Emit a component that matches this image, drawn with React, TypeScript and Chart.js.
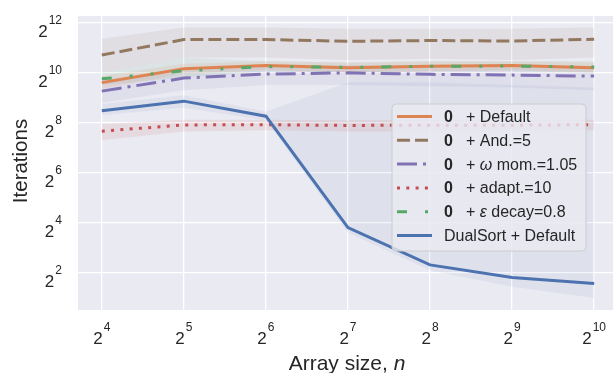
import React, { useEffect, useRef } from "react";
import { Chart, registerables } from "chart.js";

Chart.register(...registerables);

// ---------- data (values are log2 of iterations; x values are log2 of array size) ----------
const sizeExponents = [4, 5, 6, 7, 8, 9, 10];
const xTickExponents = [4, 5, 6, 7, 8, 9, 10];
const yTickExponents = [2, 4, 6, 8, 10, 12];

const defaultMean = [9.6, 10.15, 10.28, 10.19, 10.25, 10.28, 10.19];
const defaultLow = [9.35, 9.95, 10.1, 10.0, 10.05, 10.1, 10.0];
const defaultHigh = [9.85, 10.35, 10.45, 10.4, 10.45, 10.45, 10.4];

const andMean = [10.7, 11.32, 11.32, 11.25, 11.28, 11.26, 11.33];
const andLow = [10.0, 10.6, 10.6, 10.5, 10.55, 10.5, 10.6];
const andHigh = [11.35, 11.8, 11.8, 11.75, 11.75, 11.75, 11.8];

const momMean = [9.26, 9.78, 9.94, 9.99, 9.93, 9.9, 9.86];
const momLow = [8.8, 9.3, 9.5, 9.5, 9.45, 9.4, 9.3];
const momHigh = [9.7, 10.15, 10.25, 10.3, 10.25, 10.2, 10.2];

const adaptMean = [7.66, 7.91, 7.92, 7.89, 7.9, 7.9, 7.92];
const adaptLow = [7.3, 7.65, 7.7, 7.65, 7.65, 7.68, 7.7];
const adaptHigh = [7.95, 8.12, 8.12, 8.1, 8.12, 8.1, 8.12];

const decayMean = [9.75, 10.07, 10.24, 10.21, 10.25, 10.26, 10.22];
const decayLow = [9.5, 9.8, 10.05, 10.0, 10.05, 10.05, 10.0];
const decayHigh = [10.0, 10.6, 10.45, 10.4, 10.45, 10.45, 10.45];

const dualMean = [8.48, 8.86, 8.26, 3.81, 2.32, 1.82, 1.58];
const dualLow = [8.3, 8.6, 8.1, 3.6, 2.1, 1.45, 1.0];
const dualHigh = [8.75, 9.1, 8.45, 9.6, 9.6, 9.5, 9.4];

// ---------- styles ----------
const FONT = '"Liberation Sans", Arial, "DejaVu Sans", sans-serif';
const TEXT = "#262626";
const series = [
  { mean: defaultMean, low: defaultLow, high: defaultHigh, color: "221,132,82", dash: [] as number[], band: 0.12 },
  { mean: andMean, low: andLow, high: andHigh, color: "147,120,96", dash: [13, 5], band: 0.1 },
  { mean: momMean, low: momLow, high: momHigh, color: "129,114,179", dash: [20, 6, 3, 6], band: 0.1 },
  { mean: adaptMean, low: adaptLow, high: adaptHigh, color: "196,78,82", dash: [3, 6.3], band: 0.1 },
  { mean: decayMean, low: decayLow, high: decayHigh, color: "85,168,104", dash: [10, 18, 3, 18, 3, 18], band: 0.1 },
  { mean: dualMean, low: dualLow, high: dualHigh, color: "76,114,176", dash: [] as number[], band: 0.07 },
];

type Part = { t: string; b?: boolean; i?: boolean };
const legendParts: Part[][] = [
  [{ t: "0", b: true }, { t: "+ Default" }],
  [{ t: "0", b: true }, { t: "+ And.=5" }],
  [{ t: "0", b: true }, { t: "+ " }, { t: "ω", i: true }, { t: " mom.=1.05" }],
  [{ t: "0", b: true }, { t: "+ adapt.=10" }],
  [{ t: "0", b: true }, { t: "+ " }, { t: "ε", i: true }, { t: " decay=0.8" }],
  [{ t: "DualSort + Default" }],
];

const toPts = (ys: number[]) => sizeExponents.map((x, i) => ({ x, y: ys[i] }));

function drawPow(ctx: CanvasRenderingContext2D, x: number, baseline: number, exp: string, align: "right" | "center") {
  ctx.font = `17px ${FONT}`;
  const wb = ctx.measureText("2").width;
  ctx.font = `12px ${FONT}`;
  const we = ctx.measureText(exp).width;
  const gap = 1;
  const total = wb + gap + we;
  const x0 = align === "right" ? x - total : x - total / 2;
  ctx.textAlign = "left";
  ctx.textBaseline = "alphabetic";
  ctx.fillStyle = TEXT;
  ctx.font = `17px ${FONT}`;
  ctx.fillText("2", x0, baseline);
  ctx.font = `12px ${FONT}`;
  ctx.fillText(exp, x0 + wb + gap, baseline - 13);
}

const decorPlugin = {
  id: "decor",
  beforeDraw(chart: any) {
    const { ctx, chartArea } = chart;
    ctx.save();
    ctx.fillStyle = "#EAEAF2";
    ctx.fillRect(chartArea.left, chartArea.top, chartArea.right - chartArea.left, chartArea.bottom - chartArea.top);
    ctx.restore();
  },
  afterDraw(chart: any) {
    const { ctx } = chart;
    const xs = chart.scales.x;
    const ys = chart.scales.y;
    ctx.save();
    for (const e of yTickExponents) {
      const py = ys.getPixelForValue(e);
      drawPow(ctx, 62, py + 14, String(e), "right");
    }
    for (const e of xTickExponents) {
      const px = xs.getPixelForValue(e);
      drawPow(ctx, px, 344, String(e), "center");
    }
    ctx.save();
    ctx.translate(27, 161);
    ctx.rotate(-Math.PI / 2);
    ctx.font = `20.5px ${FONT}`;
    ctx.fillStyle = TEXT;
    ctx.textAlign = "center";
    ctx.textBaseline = "alphabetic";
    ctx.fillText("Iterations", 0, 0);
    ctx.restore();
    ctx.font = `21px ${FONT}`;
    const w1 = ctx.measureText("Array size, ").width;
    ctx.font = `italic 21px ${FONT}`;
    const w2 = ctx.measureText("n").width;
    const sx = 347 - (w1 + w2) / 2;
    ctx.fillStyle = TEXT;
    ctx.textAlign = "left";
    ctx.font = `21px ${FONT}`;
    ctx.fillText("Array size, ", sx, 370);
    ctx.font = `italic 21px ${FONT}`;
    ctx.fillText("n", sx + w1, 370);

    const bx = 392, by = 104, bw = 194, bh = 147, r = 4;
    ctx.beginPath();
    ctx.moveTo(bx + r, by);
    ctx.arcTo(bx + bw, by, bx + bw, by + bh, r);
    ctx.arcTo(bx + bw, by + bh, bx, by + bh, r);
    ctx.arcTo(bx, by + bh, bx, by, r);
    ctx.arcTo(bx, by, bx + bw, by, r);
    ctx.closePath();
    ctx.fillStyle = "rgba(234,234,242,0.8)";
    ctx.fill();
    ctx.strokeStyle = "#cccccc";
    ctx.lineWidth = 1;
    ctx.stroke();

    legendParts.forEach((parts, i) => {
      const cy = 116.5 + i * 23.8;
      const s = series[i];
      ctx.save();
      ctx.strokeStyle = `rgb(${s.color})`;
      ctx.lineWidth = 3;
      ctx.lineCap = "butt";
      ctx.setLineDash(s.dash);
      ctx.beginPath();
      ctx.moveTo(397, cy);
      ctx.lineTo(432, cy);
      ctx.stroke();
      ctx.restore();
      let x = 444;
      ctx.fillStyle = TEXT;
      ctx.textBaseline = "middle";
      parts.forEach((p) => {
        ctx.font = `${p.b ? "bold " : ""}${p.i ? "italic " : ""}16px ${FONT}`;
        ctx.fillText(p.t, x, cy + 1);
        if (p.b) x += 22;
        else x += ctx.measureText(p.t).width;
      });
    });
    ctx.restore();
  },
};

export default function App() {
  const ref = useRef<HTMLCanvasElement | null>(null);
  useEffect(() => {
    document.body.style.margin = "0";
    const canvas = ref.current!;
    const datasets: any[] = [];
    series.forEach((s, i) => {
      datasets.push({
        data: toPts(s.mean),
        borderColor: `rgb(${s.color})`,
        borderWidth: 3,
        borderDash: s.dash,
        borderCapStyle: "butt",
        pointRadius: 0,
        fill: false,
        tension: 0,
        order: 10 - i,
      });
    });
    series.forEach((s) => {
      const lowIndex = datasets.length;
      datasets.push({
        data: toPts(s.low),
        borderColor: "transparent",
        borderWidth: 0,
        pointRadius: 0,
        fill: false,
        order: 100,
      });
      datasets.push({
        data: toPts(s.high),
        borderColor: "transparent",
        borderWidth: 0,
        pointRadius: 0,
        fill: { target: lowIndex },
        backgroundColor: `rgba(${s.color},${s.band})`,
        order: 100,
      });
    });
    const chart = new Chart(canvas, {
      type: "line",
      data: { datasets },
      options: {
        animation: false,
        responsive: false,
        layout: { padding: { left: 78, top: 16, right: 0, bottom: 63 } },
        plugins: { legend: { display: false }, tooltip: { enabled: false } },
        scales: {
          x: {
            type: "linear",
            min: 3.71,
            max: 10.23,
            afterBuildTicks: (axis: any) => {
              axis.ticks = xTickExponents.map((v) => ({ value: v }));
            },
            ticks: { display: false },
            grid: { color: "#ffffff", lineWidth: 1.3, drawTicks: false },
            border: { display: false },
          },
          y: {
            type: "linear",
            min: 0.52,
            max: 12.26,
            afterBuildTicks: (axis: any) => {
              axis.ticks = yTickExponents.map((v) => ({ value: v }));
            },
            ticks: { display: false },
            grid: { color: "#ffffff", lineWidth: 1.3, drawTicks: false },
            border: { display: false },
          },
        },
      },
      plugins: [decorPlugin],
    });
    return () => chart.destroy();
  }, []);
  return (
    <div style={{ position: "fixed", left: 0, top: 0, width: 613, height: 373, background: "#fff" }}>
      <canvas ref={ref} width={613} height={373} style={{ display: "block" }} />
    </div>
  );
}
